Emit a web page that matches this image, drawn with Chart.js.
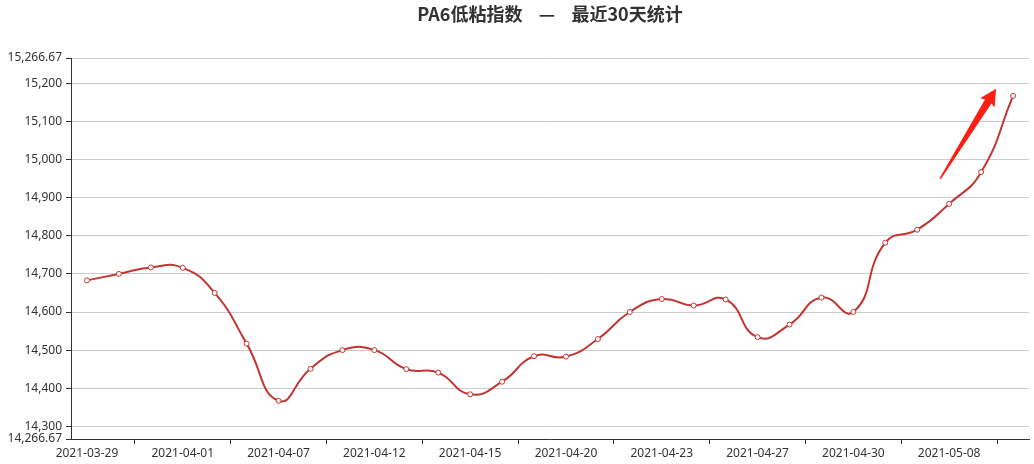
<!DOCTYPE html>
<html>
<head>
<meta charset="utf-8">
<script src="https://cdn.jsdelivr.net/npm/chart.js@4/dist/chart.umd.min.js"></script>
<style>
  html, body { margin: 0; padding: 0; background: #fff; }
  #wrap { width: 1034px; height: 464px; position: relative; }
</style>
</head>
<body>
<div id="wrap"><canvas id="c"></canvas></div>
<script>
const categories = [
  '2021-03-29','2021-03-30','2021-03-31','2021-04-01','2021-04-02','2021-04-06',
  '2021-04-07','2021-04-08','2021-04-09','2021-04-12','2021-04-13','2021-04-14',
  '2021-04-15','2021-04-16','2021-04-19','2021-04-20','2021-04-21','2021-04-22',
  '2021-04-23','2021-04-25','2021-04-26','2021-04-27','2021-04-28','2021-04-29',
  '2021-04-30','2021-05-06','2021-05-07','2021-05-08','2021-05-10','2021-05-11'
];
const indexValues = [
  14683, 14700, 14717, 14716, 14650, 14517,
  14367, 14451, 14500, 14500, 14450, 14441,
  14384, 14417, 14484, 14483, 14529, 14600,
  14634, 14617, 14633, 14534, 14567, 14638,
  14600, 14782, 14816, 14884, 14967, 15167
];
const yMin = 14266.67;
const yMax = 15266.67;
const yTickValues = [14266.67, 14300, 14400, 14500, 14600, 14700, 14800, 14900, 15000, 15100, 15200, 15266.67];
const titleText = 'PA6低粘指数    —    最近30天统计';
// arrow annotation in data coordinates: [categoryIndex, value]
const arrowTail = [26.72, 14950];
const arrowTip = [28.47, 15186];

const FONT = '"Noto Sans CJK SC", "Noto Sans", sans-serif';
const TICK_FONT = '"Noto Sans", "Noto Sans CJK SC", sans-serif';

const titlePlugin = {
  id: 'customTitle',
  afterDraw(chart) {
    const ctx = chart.ctx;
    ctx.save();
    ctx.font = 'bold 18px ' + FONT;
    ctx.fillStyle = '#333';
    ctx.textAlign = 'center';
    ctx.textBaseline = 'middle';
    ctx.fillText(titleText, chart.width / 2 + 33, 14);
    ctx.restore();
  }
};

const arrowPlugin = {
  id: 'arrow',
  afterDatasetsDraw(chart) {
    const xs = chart.scales.x, ys = chart.scales.y;
    const tx = xs.getPixelForValue(arrowTail[0]), ty = ys.getPixelForValue(arrowTail[1]);
    const hx = xs.getPixelForValue(arrowTip[0]), hy = ys.getPixelForValue(arrowTip[1]);
    const dx = hx - tx, dy = hy - ty;
    const len = Math.sqrt(dx * dx + dy * dy);
    const ux = dx / len, uy = dy / len;
    const nx = -uy, ny = ux;
    const headLen = 15, headHalf = 8.5, shaftHalf = 3.8, tailHalf = 0.8;
    const bx = hx - ux * headLen, by = hy - uy * headLen;
    const ctx = chart.ctx;
    ctx.save();
    ctx.fillStyle = '#fb1e12';
    ctx.beginPath();
    ctx.moveTo(tx + nx * tailHalf, ty + ny * tailHalf);
    ctx.lineTo(bx + nx * shaftHalf, by + ny * shaftHalf);
    ctx.lineTo(bx + nx * headHalf - ux * 1.5, by + ny * headHalf - uy * 1.5);
    ctx.lineTo(hx, hy);
    ctx.lineTo(bx - nx * headHalf - ux * 1.5, by - ny * headHalf - uy * 1.5);
    ctx.lineTo(bx - nx * shaftHalf, by - ny * shaftHalf);
    ctx.lineTo(tx - nx * tailHalf, ty - ny * tailHalf);
    ctx.closePath();
    ctx.fill();
    ctx.restore();
  }
};

new Chart(document.getElementById('c'), {
  type: 'line',
  data: {
    labels: categories,
    datasets: [{
      data: indexValues,
      borderColor: '#c23531',
      borderWidth: 2,
      tension: 0.5,
      fill: false,
      pointRadius: 2.5,
      pointBorderWidth: 1,
      pointBorderColor: '#c23531',
      pointBackgroundColor: '#ffffff'
    }]
  },
  options: {
    responsive: true,
    maintainAspectRatio: false,
    animation: false,
    layout: { padding: { top: 58, right: 3, left: 0, bottom: 0 } },
    plugins: {
      legend: { display: false },
      title: { display: false },
      tooltip: { enabled: false }
    },
    scales: {
      x: {
        type: 'category',
        offset: true,
        afterFit(s) { s.height = 25; },
        border: { display: true, color: '#333', width: 1 },
        grid: {
          offset: true,
          drawOnChartArea: false,
          drawTicks: true,
          tickLength: 5,
          tickColor: (c) => (c.index % 3 === 2 && c.index < categories.length) ? '#333' : 'rgba(0,0,0,0)'
        },
        ticks: {
          autoSkip: false,
          maxRotation: 0,
          padding: 2,
          color: '#333',
          font: { family: TICK_FONT, size: 12 },
          callback(value, index) { return index % 3 === 0 ? categories[index] : ''; }
        }
      },
      y: {
        type: 'linear',
        min: yMin,
        max: yMax,
        afterFit(s) { s.width = 71; },
        afterBuildTicks(s) { s.ticks = yTickValues.map(v => ({ value: v })); },
        border: { display: true, color: '#333', width: 1 },
        grid: {
          color: '#ccc',
          lineWidth: 1,
          drawTicks: true,
          tickLength: 5,
          tickColor: '#333'
        },
        ticks: {
          autoSkip: false,
          padding: 4,
          color: '#333',
          font: { family: TICK_FONT, size: 12 },
          callback(value) {
            return Number(value).toLocaleString('en-US', { maximumFractionDigits: 2 });
          }
        }
      }
    }
  },
  plugins: [titlePlugin, arrowPlugin]
});
</script>
</body>
</html>
